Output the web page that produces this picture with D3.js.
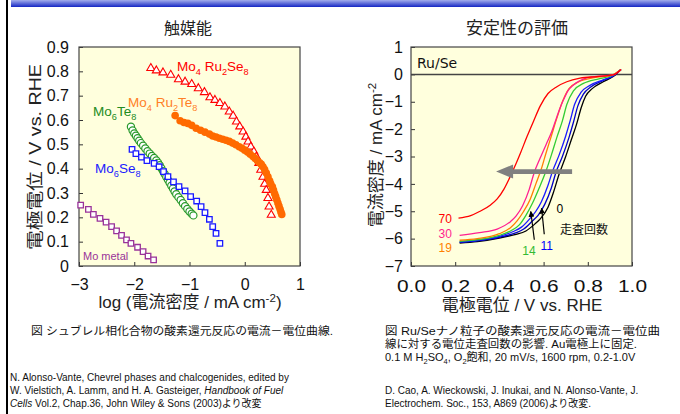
<!DOCTYPE html>
<html><head><meta charset="utf-8">
<script src="https://cdn.jsdelivr.net/npm/d3@7"></script>
<style>
body{margin:0;background:#fff;}
svg{display:block;font-family:"Liberation Sans","Noto Sans CJK JP",sans-serif;}
</style></head><body>
<svg id="c" width="680" height="414"></svg>
<script>
// ---------- Left chart data (log current density, potential) ----------
const leftXTicks = [-3, -2, -1, 0, 1];
const leftYTicks = [0, 0.1, 0.2, 0.3, 0.4, 0.5, 0.6, 0.7, 0.8, 0.9];
const moMetal = [[-2.97,0.250],[-2.83,0.233],[-2.74,0.212],[-2.62,0.196],[-2.51,0.180],[-2.41,0.162],[-2.32,0.144],[-2.23,0.126],[-2.14,0.107],[-2.06,0.093],[-1.94,0.077],[-1.84,0.059],[-1.75,0.041],[-1.65,0.025]];
const mo6Se8 = [[-2.04,0.479],[-1.97,0.462],[-1.87,0.447],[-1.77,0.433],[-1.64,0.422],[-1.55,0.408],[-1.47,0.388],[-1.39,0.367],[-1.29,0.346],[-1.19,0.326],[-1.08,0.309],[-0.98,0.285],[-0.87,0.267],[-0.79,0.244],[-0.72,0.219],[-0.64,0.192],[-0.58,0.162],[-0.52,0.134],[-0.45,0.093]];
const mo6Te8 = [[-2.06,0.572],[-2.03,0.557],[-2.00,0.545],[-1.97,0.535],[-1.94,0.525],[-1.91,0.515],[-1.88,0.505],[-1.84,0.494],[-1.80,0.483],[-1.76,0.472],[-1.72,0.462],[-1.68,0.452],[-1.64,0.444],[-1.60,0.434],[-1.57,0.424],[-1.54,0.414],[-1.51,0.402],[-1.48,0.390],[-1.45,0.378],[-1.42,0.366],[-1.39,0.354],[-1.36,0.342],[-1.33,0.330],[-1.30,0.318],[-1.27,0.306],[-1.24,0.295],[-1.20,0.283],[-1.16,0.271],[-1.12,0.258],[-1.08,0.246],[-1.04,0.234],[-1.00,0.224],[-0.96,0.215],[-0.93,0.208]];
const mo4Ru2Se8 = [[-1.70,0.813],[-1.60,0.803],[-1.48,0.795],[-1.34,0.785],[-1.20,0.767],[-1.08,0.757],[-0.96,0.747],[-0.84,0.730],[-0.73,0.714],[-0.63,0.693],[-0.54,0.682],[-0.45,0.669],[-0.36,0.655],[-0.28,0.634],[-0.21,0.617],[-0.15,0.593],[-0.09,0.573],[-0.03,0.552],[0.02,0.531],[0.06,0.511],[0.11,0.490],[0.165,0.470],[0.21,0.449],[0.255,0.423],[0.29,0.395],[0.33,0.366],[0.36,0.337],[0.39,0.312],[0.42,0.279],[0.44,0.244],[0.48,0.210]];
const mo4Ru2Te8 = [[-1.26,0.618],[-1.17,0.597],[-1.10,0.590],[-1.03,0.586],[-0.96,0.578],[-0.88,0.566],[-0.80,0.558],[-0.72,0.550],[-0.64,0.542],[-0.58,0.534],[-0.52,0.530],[-0.46,0.525],[-0.40,0.521],[-0.34,0.517],[-0.28,0.512],[-0.22,0.505],[-0.16,0.498],[-0.10,0.490],[-0.05,0.484],[0.00,0.476],[0.05,0.468],[0.10,0.459],[0.15,0.450],[0.19,0.442],[0.23,0.432],[0.27,0.424],[0.30,0.418],[0.33,0.408],[0.36,0.396],[0.39,0.382],[0.42,0.367],[0.45,0.350],[0.47,0.338],[0.50,0.325],[0.52,0.312],[0.54,0.298],[0.56,0.285],[0.58,0.272],[0.60,0.259],[0.62,0.246],[0.64,0.233],[0.655,0.222],[0.67,0.212]];

// ---------- Right chart data (potential, current density) ----------
const rightXTicks = [0, 0.2, 0.4, 0.6, 0.8, 1.0];
const rightYTicks = [1, 0, -1, -2, -3, -4, -5, -6, -7];
const cycle70 = [[0.215,-5.25],[0.27,-5.16],[0.31,-5.01],[0.36,-4.77],[0.39,-4.55],[0.42,-4.20],[0.445,-3.80],[0.465,-3.45],[0.495,-2.88],[0.525,-2.27],[0.555,-1.70],[0.585,-1.15],[0.62,-0.70],[0.66,-0.45],[0.705,-0.27],[0.765,-0.14],[0.84,-0.08],[0.915,-0.02],[0.95,0.18]];
const cycle30 = [[0.22,-5.88],[0.31,-5.78],[0.39,-5.65],[0.45,-5.38],[0.475,-5.18],[0.505,-4.80],[0.535,-4.20],[0.557,-3.60],[0.585,-3.05],[0.612,-2.55],[0.637,-2.09],[0.658,-1.60],[0.674,-1.24],[0.69,-0.93],[0.71,-0.60],[0.735,-0.39],[0.795,-0.13],[0.84,-0.07],[0.91,-0.03],[0.95,0.18]];
const cycle19 = [[0.22,-6.06],[0.30,-6.00],[0.40,-5.82],[0.45,-5.60],[0.48,-5.35],[0.51,-5.00],[0.54,-4.55],[0.565,-4.00],[0.59,-3.45],[0.61,-2.90],[0.635,-2.25],[0.66,-1.60],[0.685,-1.00],[0.715,-0.52],[0.76,-0.27],[0.83,-0.12],[0.91,-0.02],[0.95,0.18]];
const cycle14 = [[0.22,-6.10],[0.30,-6.04],[0.40,-5.88],[0.45,-5.72],[0.49,-5.50],[0.52,-5.15],[0.55,-4.70],[0.58,-4.15],[0.61,-3.55],[0.635,-2.95],[0.66,-2.30],[0.685,-1.70],[0.705,-1.10],[0.735,-0.60],[0.78,-0.33],[0.85,-0.16],[0.91,-0.04],[0.95,0.18]];
const cycle11 = [[0.22,-6.12],[0.30,-6.06],[0.40,-5.92],[0.46,-5.75],[0.50,-5.58],[0.54,-5.25],[0.565,-5.00],[0.59,-4.65],[0.62,-4.05],[0.64,-3.55],[0.67,-2.95],[0.70,-2.25],[0.72,-1.70],[0.74,-1.10],[0.77,-0.65],[0.81,-0.40],[0.87,-0.20],[0.915,-0.05],[0.95,0.18]];
const cycleMid = [[0.22,-6.14],[0.30,-6.08],[0.40,-5.95],[0.47,-5.80],[0.51,-5.65],[0.55,-5.35],[0.575,-5.15],[0.605,-4.75],[0.635,-4.15],[0.655,-3.60],[0.685,-3.00],[0.715,-2.30],[0.735,-1.75],[0.755,-1.15],[0.78,-0.72],[0.815,-0.45],[0.87,-0.22],[0.915,-0.06],[0.95,0.18]];
const cycle0 = [[0.22,-6.16],[0.30,-6.11],[0.40,-5.98],[0.47,-5.85],[0.52,-5.72],[0.56,-5.47],[0.585,-5.28],[0.62,-4.85],[0.645,-4.30],[0.67,-3.65],[0.70,-3.00],[0.725,-2.40],[0.75,-1.80],[0.77,-1.22],[0.79,-0.80],[0.82,-0.52],[0.87,-0.27],[0.915,-0.08],[0.95,0.18]];
const cycleLabels = [
  {text:"70", v:0.155, j:-5.42, color:"#ff0000"},
  {text:"30", v:0.155, j:-5.96, color:"#ff1f8f"},
  {text:"19", v:0.155, j:-6.49, color:"#ff7f00"},
  {text:"0",  v:0.674, j:-5.06, color:"#000000"},
  {text:"14", v:0.534, j:-6.59, color:"#33bb33"},
  {text:"11", v:0.614, j:-6.41, color:"#0000ff"}
];
const scanArrows = [ {from:[0.558,-6.04], to:[0.542,-5.01]}, {from:[0.603,-5.84], to:[0.591,-4.89]} ];
const bigArrow = {from:0.729, headBase:0.462, tip:0.385, j:-3.55};

const svg = d3.select("#c");

// decorations: top bar and left rule
const defs = svg.append("defs");
const grad = defs.append("linearGradient").attr("id","bar").attr("x1",0).attr("y1",0).attr("x2",0).attr("y2",1);
grad.append("stop").attr("offset","0%").attr("stop-color","#a4aeec");
grad.append("stop").attr("offset","100%").attr("stop-color","#1426c4");
svg.append("rect").attr("x",11).attr("y",0).attr("width",669).attr("height",7).attr("fill","url(#bar)");
svg.append("rect").attr("x",6).attr("y",0).attr("width",2).attr("height",414).attr("fill","#000");

defs.append("marker").attr("id","ah").attr("viewBox","0 0 10 10").attr("refX",9).attr("refY",5)
  .attr("markerWidth",6).attr("markerHeight",6).attr("markerUnits","userSpaceOnUse").attr("orient","auto")
  .append("path").attr("d","M0,0 L10,5 L0,10 z").attr("fill","#000");

// rich text: parts [text, kind] with kind in sub/sup/i
function richText(sel, parts, size){
  let cur = 0;
  parts.forEach(p=>{
    const target = p[1]==="sub" ? size*0.28 : p[1]==="sup" ? -size*0.38 : 0;
    const t = sel.append("tspan").text(p[0]);
    if(target !== cur) t.attr("dy", target - cur);
    cur = target;
    if(p[1]==="sub" || p[1]==="sup") t.attr("font-size", size*0.68);
    if(p[1]==="i") t.attr("font-style","italic");
  });
  return sel;
}

// ---------------- LEFT CHART ----------------
const xL = d3.scaleLinear().domain([-3,1]).range([79,300]);
const yL = d3.scaleLinear().domain([0,0.9]).range([266,47]);
const gL = svg.append("g");
gL.append("rect").attr("x",xL(-3)).attr("y",yL(0.9)).attr("width",xL(1)-xL(-3)).attr("height",yL(0)-yL(0.9))
  .attr("fill","#ffffdd");
gL.append("g").attr("transform",`translate(${xL(-3)},0)`)
  .call(d3.axisLeft(yL).tickValues(leftYTicks).tickSize(-4).tickPadding(10).tickFormat(d=>d===0?"0":d.toFixed(1)))
  .call(g=>{g.select(".domain").remove(); g.selectAll("line").attr("stroke","#333");
    g.selectAll("text").attr("font-size",16).attr("fill","#111").attr("font-family","Liberation Sans");});
gL.append("g").attr("transform",`translate(0,${yL(0)})`)
  .call(d3.axisBottom(xL).tickValues(leftXTicks).tickSize(-4).tickPadding(13).tickFormat(d3.format("d")))
  .call(g=>{g.select(".domain").remove(); g.selectAll("line").attr("stroke","#333");
    g.selectAll("text").attr("font-size",16).attr("fill","#111").attr("font-family","Liberation Sans");});
gL.append("rect").attr("x",xL(-3)).attr("y",yL(0.9)).attr("width",xL(1)-xL(-3)).attr("height",yL(0)-yL(0.9))
  .attr("fill","none").attr("stroke","#444").attr("stroke-width",1.2);

const sq = d3.symbol(d3.symbolSquare, 30);
const tri = d3.symbol(d3.symbolTriangle, 28);
gL.append("g").selectAll("path").data(moMetal).join("path").attr("d",sq)
  .attr("transform",d=>`translate(${xL(d[0])},${yL(d[1])})`).attr("fill","#fff").attr("stroke","#993399").attr("stroke-width",1.3);
gL.append("g").selectAll("circle").data(mo6Te8).join("circle").attr("cx",d=>xL(d[0])).attr("cy",d=>yL(d[1])).attr("r",3.6)
  .attr("fill","#fff").attr("stroke","#2a9a2a").attr("stroke-width",1.2);
gL.append("g").selectAll("path").data(mo6Se8).join("path").attr("d",sq)
  .attr("transform",d=>`translate(${xL(d[0])},${yL(d[1])})`).attr("fill","#fff").attr("stroke","#1a1aff").attr("stroke-width",1.3);
gL.append("g").selectAll("path").data(mo4Ru2Se8).join("path").attr("d",tri)
  .attr("transform",d=>`translate(${xL(d[0])},${yL(d[1])})`).attr("fill","#fff").attr("stroke","#ff0000").attr("stroke-width",1.1);
gL.append("g").selectAll("circle").data(mo4Ru2Te8).join("circle").attr("cx",d=>xL(d[0])).attr("cy",d=>yL(d[1])).attr("r",3.8)
  .attr("fill","#ff6a00");

const lblL = [
  {x:177, y:71, color:"#ff0000", parts:[["Mo"],["4","sub"],[" Ru"],["2","sub"],["Se"],["8","sub"]], size:13.5},
  {x:128, y:107, color:"#ff7f27", parts:[["Mo"],["4","sub"],[" Ru"],["2","sub"],["Te"],["8","sub"]], size:13.5},
  {x:93, y:116, color:"#228b22", parts:[["Mo"],["6","sub"],["Te"],["8","sub"]], size:13.5},
  {x:95, y:173, color:"#1a1aff", parts:[["Mo"],["6","sub"],["Se"],["8","sub"]], size:13.5},
  {x:83, y:260, color:"#993399", parts:[["Mo metal"]], size:11}
];
lblL.forEach(l=>{
  const t = gL.append("text").attr("x",l.x).attr("y",l.y).attr("fill",l.color).attr("font-size",l.size);
  richText(t,l.parts,l.size);
});

svg.append("text").attr("x",188).attr("y",34).attr("text-anchor","middle").attr("font-size",16).attr("fill","#222").text("触媒能");
svg.append("text").attr("transform","translate(41,157) rotate(-90)").attr("text-anchor","middle").attr("font-size",17)
  .attr("textLength",186).attr("lengthAdjust","spacingAndGlyphs").attr("fill","#222").text("電極電位 / V vs. RHE");
richText(svg.append("text").attr("x",190).attr("y",308).attr("text-anchor","middle").attr("font-size",17).attr("fill","#222"),
  [["log (電流密度 / mA cm"],["-2","sup"],[")"]],17);

// ---------------- RIGHT CHART ----------------
const xR = d3.scaleLinear().domain([0,1]).range([411,632]);
const yR = d3.scaleLinear().domain([-7,1]).range([266,47]);
const gR = svg.append("g");
gR.append("rect").attr("x",xR(0)).attr("y",yR(1)).attr("width",xR(1)-xR(0)).attr("height",yR(-7)-yR(1)).attr("fill","#ffffdd");
gR.append("g").attr("transform",`translate(${xR(0)},0)`)
  .call(d3.axisLeft(yR).tickValues(rightYTicks).tickSize(-4).tickPadding(8).tickFormat(d3.format("d")))
  .call(g=>{g.select(".domain").remove(); g.selectAll("line").attr("stroke","#333");
    g.selectAll("text").attr("font-size",16).attr("fill","#111").attr("font-family","Liberation Sans");});
gR.append("g").attr("transform",`translate(0,${yR(-7)})`)
  .call(d3.axisBottom(xR).tickValues(rightXTicks).tickSize(-4).tickPadding(14).tickFormat(d3.format(".1f")))
  .call(g=>{g.select(".domain").remove(); g.selectAll("line").attr("stroke","#333");
    g.selectAll("text").attr("font-size",17).attr("fill","#111").attr("font-family","Liberation Sans")
      .attr("textLength",29).attr("lengthAdjust","spacingAndGlyphs");});
gR.append("line").attr("x1",xR(0)).attr("x2",xR(1)).attr("y1",yR(0)).attr("y2",yR(0)).attr("stroke","#444").attr("stroke-width",1.5);

const line = d3.line().x(d=>xR(d[0])).y(d=>yR(d[1])).curve(d3.curveMonotoneX);
const curves = [
  {d:cycle0, c:"#000000"},{d:cycleMid, c:"#0000c8"},{d:cycle11, c:"#1a1aff"},{d:cycle14, c:"#33cc33"},
  {d:cycle19, c:"#ff7f00"},{d:cycle30, c:"#ff1f8f"},{d:cycle70, c:"#ff0000"}
];
gR.append("g").selectAll("path").data(curves).join("path").attr("d",c=>line(c.d))
  .attr("fill","none").attr("stroke",c=>c.c).attr("stroke-width",1.3);
gR.append("rect").attr("x",xR(0)).attr("y",yR(1)).attr("width",xR(1)-xR(0)).attr("height",yR(-7)-yR(1))
  .attr("fill","none").attr("stroke","#444").attr("stroke-width",1.2);

// big grey arrow
{
  const y0 = yR(bigArrow.j);
  const pts = [[xR(bigArrow.from),y0-2.4],[xR(bigArrow.headBase),y0-2.4],[xR(bigArrow.headBase),y0-7],[xR(bigArrow.tip),y0],
               [xR(bigArrow.headBase),y0+7],[xR(bigArrow.headBase),y0+2.4],[xR(bigArrow.from),y0+2.4]];
  gR.append("path").attr("d","M"+pts.map(p=>p.join(",")).join("L")+"Z").attr("fill","#808080");
}
gR.append("g").selectAll("line").data(scanArrows).join("line")
  .attr("x1",d=>xR(d.from[0])).attr("y1",d=>yR(d.from[1])).attr("x2",d=>xR(d.to[0])).attr("y2",d=>yR(d.to[1]))
  .attr("stroke","#000").attr("stroke-width",1.2).attr("marker-end","url(#ah)");

gR.append("g").selectAll("text").data(cycleLabels).join("text").attr("x",d=>xR(d.v)).attr("y",d=>yR(d.j))
  .attr("fill",d=>d.color).attr("font-size",12).attr("text-anchor","middle").text(d=>d.text);
gR.append("text").attr("x",584).attr("y",234).attr("text-anchor","middle").attr("font-size",12).attr("fill","#111").text("走査回数");
gR.append("text").attr("x",417).attr("y",68).attr("font-size",14).attr("font-family","DejaVu Sans").attr("fill","#111").text("Ru/Se");

svg.append("text").attr("x",517).attr("y",34).attr("text-anchor","middle").attr("font-size",17).attr("fill","#222").text("安定性の評価");
richText(svg.append("text").attr("transform","translate(382,155) rotate(-90)").attr("text-anchor","middle").attr("font-size",17).attr("fill","#222"),
  [["電流密度 / mA cm"],["-2","sup"]],17);
svg.append("text").attr("x",522).attr("y",311).attr("text-anchor","middle").attr("font-size",17).attr("fill","#222").text("電極電位 / V vs. RHE");

// ---------------- captions ----------------
svg.append("text").attr("x",31).attr("y",335).attr("font-size",11).attr("textLength",302).attr("lengthAdjust","spacingAndGlyphs")
  .attr("fill","#111").text("図 シュブレル相化合物の酸素還元反応の電流－電位曲線.");
svg.append("text").attr("x",385).attr("y",335).attr("font-size",11).attr("textLength",275).attr("lengthAdjust","spacingAndGlyphs")
  .attr("fill","#111").text("図 Ru/Seナノ粒子の酸素還元反応の電流－電位曲");
svg.append("text").attr("x",385).attr("y",348).attr("font-size",11).attr("textLength",252).attr("lengthAdjust","spacingAndGlyphs")
  .attr("fill","#111").text("線に対する電位走査回数の影響. Au電極上に固定.");
richText(svg.append("text").attr("x",385).attr("y",361).attr("font-size",11).attr("fill","#111"),
  [["0.1 M H"],["2","sub"],["SO"],["4","sub"],[", O"],["2","sub"],["飽和, 20 mV/s, 1600 rpm, 0.2-1.0V"]],11);

const citeL = [
  [["N. Alonso-Vante, Chevrel phases and chalcogenides, edited by"]],
  [["W. Vielstich, A. Lamm, and H. A. Gasteiger, "],["Handbook of Fuel","i"]],
  [["Cells","i"],[" Vol.2, Chap.36, John Wiley & Sons (2003)より改変"]]
];
citeL.forEach((p,i)=>richText(svg.append("text").attr("x",10).attr("y",381+i*13).attr("font-size",10).attr("fill","#111"),p,10));
const citeR = [
  [["D. Cao, A. Wieckowski, J. Inukai, and N. Alonso-Vante, J."]],
  [["Electrochem. Soc., 153, A869 (2006)より改変."]]
];
citeR.forEach((p,i)=>richText(svg.append("text").attr("x",385).attr("y",394+i*13).attr("font-size",10).attr("fill","#111"),p,10));
</script></body></html>
